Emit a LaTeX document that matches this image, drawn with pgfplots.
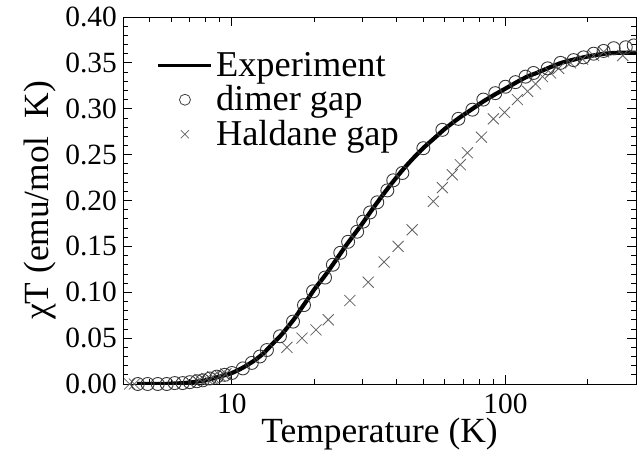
\documentclass[border=0pt]{standalone}
\usepackage{fontspec}
\setmainfont{Liberation Serif}
\usepackage{pgfplots}
\pgfplotsset{compat=1.18}

\begin{document}
\begin{tikzpicture}
\begin{axis}[
    xmode=log,
    scale only axis,
    width=513bp, height=367bp,
    xmin=4, xmax=300,
    ymin=0, ymax=0.40,
    xtick={10,100},
    xticklabels={10,100},
    minor xtick={5,6,7,8,9,20,30,40,50,60,70,80,90,200},
    ytick={0,0.05,0.1,0.15,0.2,0.25,0.3,0.35,0.4},
    minor y tick num=4,
    scaled y ticks=false,
    tick pos=both,
    /pgf/number format/assume math mode=true,
    tick label style={font=\fontsize{29.5}{29.5}\selectfont},
    xticklabel style={inner sep=0pt, yshift=-10bp},
    yticklabel style={inner sep=0pt, xshift=-6bp,
        /pgf/number format/fixed, /pgf/number format/fixed zerofill,
        /pgf/number format/precision=2},
    axis line style={line width=0.9bp},
    every tick/.style={black, line width=0.8bp},
    major tick length=9bp,
    minor tick length=5bp,
    xlabel={Temperature (K)},
    ylabel={χT (emu/mol\ \ K)},
    label style={font=\fontsize{35.5}{35.5}\selectfont},
    xlabel style={at={(axis description cs:0.5,-0.135)}, anchor=center},
    ylabel style={at={(axis description cs:-0.162,0.5)}, anchor=center},
    legend cell align=left,
    legend style={draw=none, fill=none,
        at={(axis description cs:0.066,0.9155)}, anchor=north west,
        inner sep=0pt, outer sep=0pt, row sep=0pt, column sep=3bp,
        font=\fontsize{36.5}{36.5}\selectfont,
        nodes={inner sep=0pt, text height=28bp, text depth=6.5bp}},
]
\coordinate (O) at (rel axis cs:0,0);

% legend entries first, plots drawn below with forget plot
\addlegendimage{legend image code/.code={
    \draw[black, line width=3.2bp] (0bp,0bp) -- (53bp,0bp);}}
\addlegendentry{Experiment}
\addlegendimage{legend image code/.code={
    \draw[black!75, line width=0.8bp, only marks, mark=o, mark size=5.5bp]
        plot coordinates {(26.5bp,0bp)};}}
\addlegendentry{dimer gap}
\addlegendimage{legend image code/.code={
    \draw[black!60, line width=0.7bp, only marks, mark=x, mark size=5.7bp]
        plot coordinates {(26.5bp,0bp)};}}
\addlegendentry{Haldane gap}

% Haldane gap
\addplot[only marks, mark=x, mark size=7.8bp, black!62, line width=0.8bp, forget plot]
    coordinates {
    (4.23,0)(4.40,0)
    (7.64,0.005)(8.10,0.006)(8.52,0.008)(9.04,0.009)(9.51,0.011)
    (15.9,0.040)(18.05,0.050)(20.3,0.059)(22.5,0.070)(27.0,0.091)
    (31.5,0.111)(36.0,0.133)(40.5,0.150)(45.6,0.168)(54.5,0.199)
    (58.8,0.214)(63.9,0.228)(68.4,0.239)(72.6,0.252)(81.7,0.269)
    (90.3,0.289)(99.2,0.296)(110.6,0.310)(120.4,0.319)(128.8,0.327)
    (136.6,0.335)(146.2,0.339)(156.4,0.344)(172.9,0.350)(191.4,0.354)
    (210,0.358)(228.4,0.362)(268.3,0.358)
    };

% dimer gap
\addplot[only marks, mark=o, mark size=6.5bp, black!78, line width=0.9bp, forget plot]
    coordinates {
    (4.53,0)(4.92,0)(5.36,0)(5.78,0)(6.18,0.001)(6.61,0.001)(7.02,0.002)
    (7.45,0.003)(7.83,0.004)(8.30,0.006)(8.81,0.008)(9.42,0.010)(10,0.012)
    (10.97,0.017)(11.83,0.023)(12.66,0.030)(13.43,0.037)(14.99,0.052)
    (16.73,0.068)(18.35,0.086)(19.8,0.101)(21.9,0.116)(23.4,0.130)
    (24.9,0.143)(26.6,0.155)(28.7,0.166)(30.2,0.177)(32.0,0.187)
    (34.0,0.198)(37.0,0.211)(38.9,0.222)(42.0,0.230)(50.1,0.257)
    (58.8,0.277)(67.3,0.289)(75.7,0.299)(83.0,0.310)(91.8,0.317)
    (100,0.324)(108.8,0.329)(118.4,0.335)(126.6,0.339)(142.6,0.344)
    (158.9,0.350)(177.4,0.353)(193,0.356)(210,0.360)(228.4,0.363)
    (248.6,0.366)(275.2,0.367)(294.3,0.369)
    };

% experiment
\addplot[black, line width=4.2bp, smooth, tension=0.4, forget plot]
    coordinates {
    (4.5,0)(5.5,0)(6.2,0.0005)(7,0.0015)(8,0.004)(9,0.008)(10,0.012)
    (11,0.018)(12,0.025)(13,0.033)(14,0.043)(15,0.052)(16,0.062)(17,0.072)
    (18,0.083)(19,0.093)(20,0.103)(22,0.119)(24,0.135)(26,0.150)(28,0.163)
    (30,0.175)(32,0.187)(35,0.203)(38,0.217)(42,0.233)(46,0.246)(50,0.257)
    (55,0.268)(60,0.278)(67,0.289)(75,0.299)(83,0.308)(92,0.316)(100,0.322)
    (110,0.329)(120,0.335)(130,0.339)(145,0.345)(160,0.350)(180,0.354)
    (200,0.357)(230,0.360)(260,0.361)(300,0.361)
    };
\end{axis}
\pgfresetboundingbox
\path ([xshift=-123bp,yshift=-66bp]O) rectangle ([xshift=514bp,yshift=384bp]O);
\end{tikzpicture}
\end{document}
